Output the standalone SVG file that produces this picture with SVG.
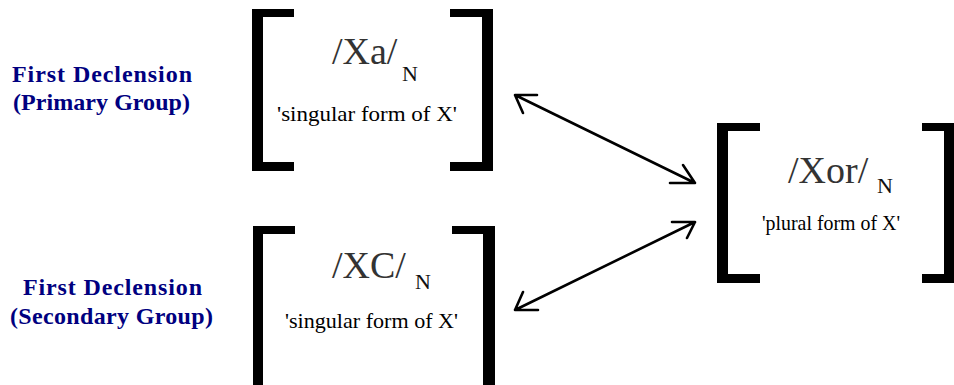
<svg xmlns="http://www.w3.org/2000/svg" width="954" height="385" viewBox="0 0 954 385">
<style>
.lbl{font-family:"Liberation Serif","Times New Roman",serif;font-weight:bold;fill:#000080;font-size:24px}
.big{font-family:"Liberation Serif","Times New Roman",serif;fill:#333;font-size:38px}
.sub{font-family:"Liberation Serif","Times New Roman",serif;fill:#111;font-size:22px}
.gl{font-family:"Liberation Serif","Times New Roman",serif;fill:#000;font-size:22px}
.br{fill:#000}
.ar{stroke:#000;stroke-width:2.6;fill:none;stroke-linecap:round;stroke-linejoin:round}
</style>
<rect width="954" height="385" fill="#fff"/>
<g id="label-primary">
<text class="lbl" x="12" y="82" textLength="180" lengthAdjust="spacing">First Declension</text>
<text class="lbl" x="13" y="110" textLength="177" lengthAdjust="spacing">(Primary Group)</text>
</g>
<g id="label-secondary">
<text class="lbl" x="23" y="295" textLength="179" lengthAdjust="spacing">First Declension</text>
<text class="lbl" x="10" y="324" textLength="203" lengthAdjust="spacing">(Secondary Group)</text>
</g>
<g id="node-xa">
<path class="br" d="M252 9H294V17H263V162H294V171H252Z"/>
<path class="br" d="M493 9H450V17H482V162H450V171H493Z"/>
<text class="big" x="332" y="64">/Xa/</text>
<text class="sub" x="402" y="81">N</text>
<text class="gl" x="277" y="121" textLength="180" lengthAdjust="spacingAndGlyphs">'singular form of X'</text>
</g>
<g id="node-xc">
<path class="br" d="M253 226H295V234H263V390H253Z"/>
<path class="br" d="M495 226H452V234H483V390H495Z"/>
<text class="big" x="332" y="278">/XC/</text>
<text class="sub" x="415" y="289">N</text>
<text class="gl" x="285" y="328" textLength="173" lengthAdjust="spacingAndGlyphs">'singular form of X'</text>
</g>
<g id="node-xor">
<path class="br" d="M717 123H760V131H728V274H760V283H717Z"/>
<path class="br" d="M954 123H922V131H944V274H922V283H954Z"/>
<text class="big" x="788" y="183">/Xor/</text>
<text class="sub" x="877" y="193">N</text>
<text class="gl" x="762" y="230" textLength="138" lengthAdjust="spacingAndGlyphs">'plural form of X'</text>
</g>
<g id="connectors">
<path class="ar" d="M515 95L695 183M537 95H515L523 113M670 183H695L683 165"/>
<path class="ar" d="M695 222L515 310M672 222H695L687 238M538 310H515L523 292"/>
</g>
</svg>
